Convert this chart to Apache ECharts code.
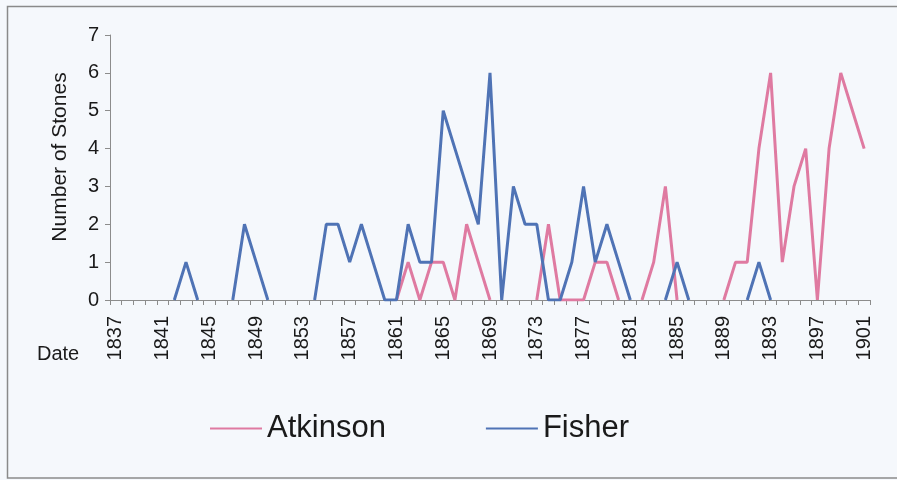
<!DOCTYPE html>
<html>
<head>
<meta charset="utf-8">
<script src="https://cdn.jsdelivr.net/npm/echarts@6/dist/echarts.min.js"></script>
<style>
html,body{margin:0;padding:0;background:#f5f8fc;}
#c{width:897px;height:480px;}
</style>
</head>
<body>
<div id="c"></div>
<script>
var years = [];
for (var y = 1837; y <= 1901; y++) years.push(String(y));

var atkinson = [
  null,null,null,null,null,null,null,null,null,null,
  null,null,null,null,null,null,null,null,null,null,
  null,null,null,null,
  0,1,0,1,1,0,2,1,0,
  null,null,null,
  0,2,0,0,0,1,1,0,
  null,
  0,1,3,0,
  null,null,null,
  0,1,1,4,6,1,3,4,0,4,6,5,4
];

var fisher = [
  null,null,null,null,null,
  0,1,0,
  null,null,
  0,2,1,0,
  null,null,null,
  0,2,2,1,2,1,0,0,2,1,1,5,4,3,2,6,0,3,2,2,0,0,1,3,1,2,1,0,
  null,null,
  0,1,0,
  null,null,null,null,
  0,1,0,
  null,null,null,null,null,null,null,null
];

var seriesNames = ['Atkinson', 'Fisher'];
var yTicks = [0,1,2,3,4,5,6,7];

var chart = echarts.init(document.getElementById('c'));
var font = 'Liberation Sans, Arial, sans-serif';
chart.setOption({
  backgroundColor: '#f5f8fc',
  animation: false,
  grid: {left: 110, right: 27, top: 35, bottom: 180},
  graphic: [
    {type: 'rect', shape: {x: 7.5, y: 6.5, width: 900, height: 471.5},
     style: {fill: 'none', stroke: '#8a8a8a', lineWidth: 1.5}},
    {type: 'text', left: 37, top: 344,
     style: {text: 'Date', font: '20px ' + font, fill: '#1a1a1a'}},
    {type: 'text', x: 60, y: 157, rotation: Math.PI / 2,
     style: {text: 'Number of Stones', font: '21px ' + font, fill: '#1a1a1a',
             align: 'center', verticalAlign: 'middle'}}
  ],
  legend: {
    data: seriesNames,
    left: 205, top: 408,
    icon: 'rect', itemWidth: 52, itemHeight: 2, itemGap: 100,
    textStyle: {fontSize: 31, fontFamily: font, color: '#1a1a1a'}
  },
  xAxis: {
    type: 'category',
    data: years,
    boundaryGap: true,
    axisLine: {lineStyle: {color: '#8c8c8c', width: 1}},
    axisTick: {show: true, interval: 0, length: 5, lineStyle: {color: '#8c8c8c'}},
    axisLabel: {interval: 3, rotate: 90, margin: 16, fontSize: 20, fontFamily: font, color: '#1a1a1a'},
    splitLine: {show: false}
  },
  yAxis: {
    type: 'value',
    min: yTicks[0], max: yTicks[yTicks.length - 1], interval: 1,
    axisLine: {show: true, lineStyle: {color: '#8c8c8c', width: 1}},
    axisTick: {show: true, length: 5, lineStyle: {color: '#8c8c8c'}},
    axisLabel: {margin: 11, fontSize: 20, fontFamily: font, color: '#1a1a1a'},
    splitLine: {show: false}
  },
  series: [
    {name: seriesNames[0], type: 'line', data: atkinson, symbol: 'none',
     connectNulls: false, color: '#df7aa1', lineStyle: {width: 3, color: '#df7aa1'}},
    {name: seriesNames[1], type: 'line', data: fisher, symbol: 'none',
     connectNulls: false, color: '#4f73b5', lineStyle: {width: 3, color: '#4f73b5'}}
  ]
});
</script>
</body>
</html>
